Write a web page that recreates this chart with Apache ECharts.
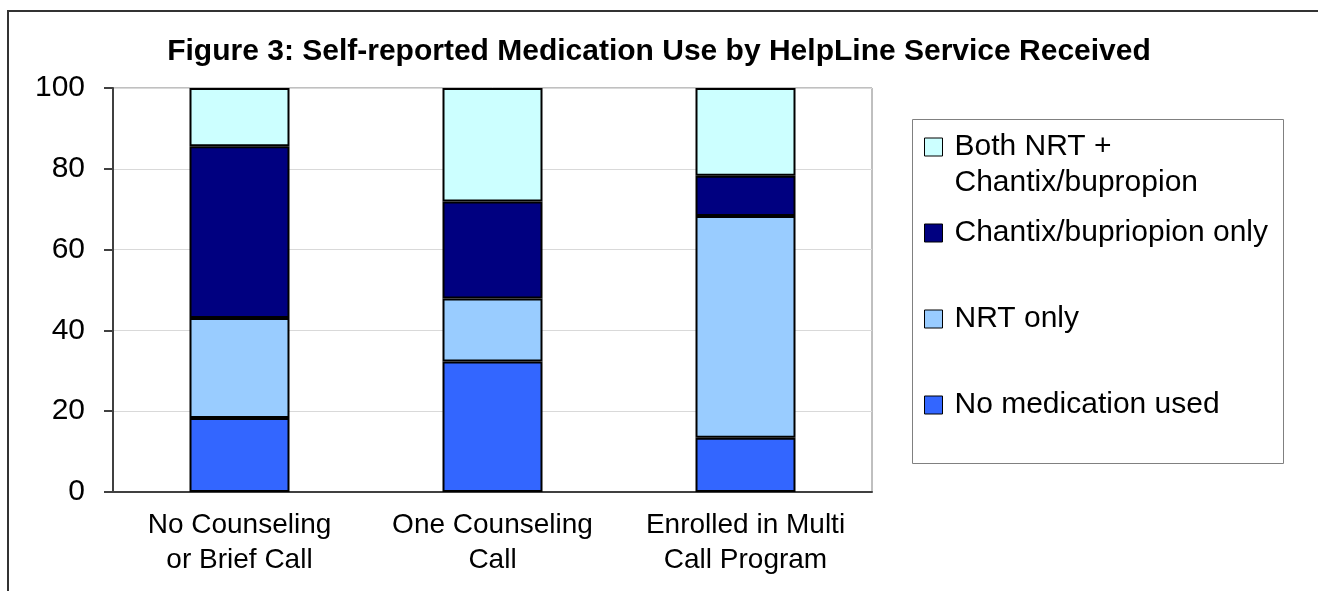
<!DOCTYPE html>
<html>
<head>
<meta charset="utf-8">
<script src="https://cdn.jsdelivr.net/npm/echarts@6/dist/echarts.min.js"></script>
<style>
html,body{margin:0;padding:0;background:#fff;}
#c{width:1318px;height:591px;}
</style>
</head>
<body>
<div id="c"></div>
<script>
var categories = ['No Counseling\nor Brief Call', 'One Counseling\nCall', 'Enrolled in Multi\nCall Program'];
var seriesNames = ['No medication used', 'NRT only', 'Chantix/bupriopion only', 'Both NRT + Chantix/bupropion'];
var noMedication = [18.3, 32.3, 13.4];
var nrtOnly = [24.8, 15.6, 54.9];
var chantixOnly = [42.5, 24.0, 10.0];
var bothNrtChantix = [14.4, 28.1, 21.7];
var yTicks = [0, 20, 40, 60, 80, 100];
var colors = ['#3366FF', '#99CCFF', '#000080', '#CCFFFF'];
var FONT = '"Liberation Sans", Arial, sans-serif';

var chart = echarts.init(document.getElementById('c'));
var values = [noMedication, nrtOnly, chantixOnly, bothNrtChantix];
var series = seriesNames.map(function (n, i) {
  return {
    name: n, type: 'bar', stack: 'total', barWidth: 100,
    data: values[i],
    itemStyle: { color: colors[i], borderColor: '#000', borderWidth: 2 },
    emphasis: { disabled: true }
  };
});

function legendFor(name, top, twoLine) {
  return {
    data: [name], left: 924, top: top, orient: 'vertical', padding: 0,
    itemWidth: 18, itemHeight: 18, icon: 'rect',
    itemStyle: { borderColor: '#000', borderWidth: 1 },
    selectedMode: false,
    formatter: function (n) { return twoLine ? '\n' + n.replace('+ ', '+\n') : n; },
    textStyle: {
      fontFamily: FONT, fontSize: 30, color: '#000', lineHeight: 36,
      padding: [0, 0, 0, 7]
    }
  };
}

chart.setOption({
  animation: false,
  title: {
    text: 'Figure 3: Self-reported Medication Use by HelpLine Service Received',
    left: 'center', top: 37, padding: 0,
    textStyle: { fontFamily: FONT, fontSize: 30, fontWeight: 'bold', color: '#000' }
  },
  grid: { left: 113, top: 88, right: 446, bottom: 99, show: true, borderColor: '#808080', borderWidth: 1 },
  xAxis: {
    type: 'category', data: categories,
    axisLine: { lineStyle: { color: '#404040', width: 2 } },
    axisTick: { show: false },
    axisLabel: { fontFamily: FONT, fontSize: 28, color: '#000', lineHeight: 35, margin: 16, interval: 0 }
  },
  yAxis: {
    type: 'value', min: yTicks[0], max: yTicks[yTicks.length - 1], interval: yTicks[1] - yTicks[0],
    axisLine: { show: true, lineStyle: { color: '#404040', width: 2 } },
    axisTick: { show: true, length: 9, lineStyle: { color: '#404040', width: 2 } },
    axisLabel: { fontFamily: FONT, fontSize: 30, color: '#000', margin: 28 },
    splitLine: { lineStyle: { color: '#d9d9d9', width: 1 } }
  },
  legend: [
    legendFor(seriesNames[3], 93, true),
    legendFor(seriesNames[2], 215, false),
    legendFor(seriesNames[1], 301, false),
    legendFor(seriesNames[0], 387, false)
  ],
  graphic: [
    { type: 'rect', shape: { x: 8, y: 11, width: 1500, height: 800 }, style: { fill: 'none', stroke: '#333', lineWidth: 2 }, silent: true },
    { type: 'rect', shape: { x: 912.5, y: 119.5, width: 371, height: 344 }, style: { fill: 'none', stroke: '#808080', lineWidth: 1 }, silent: true }
  ],
  series: series
});
</script>
</body>
</html>
